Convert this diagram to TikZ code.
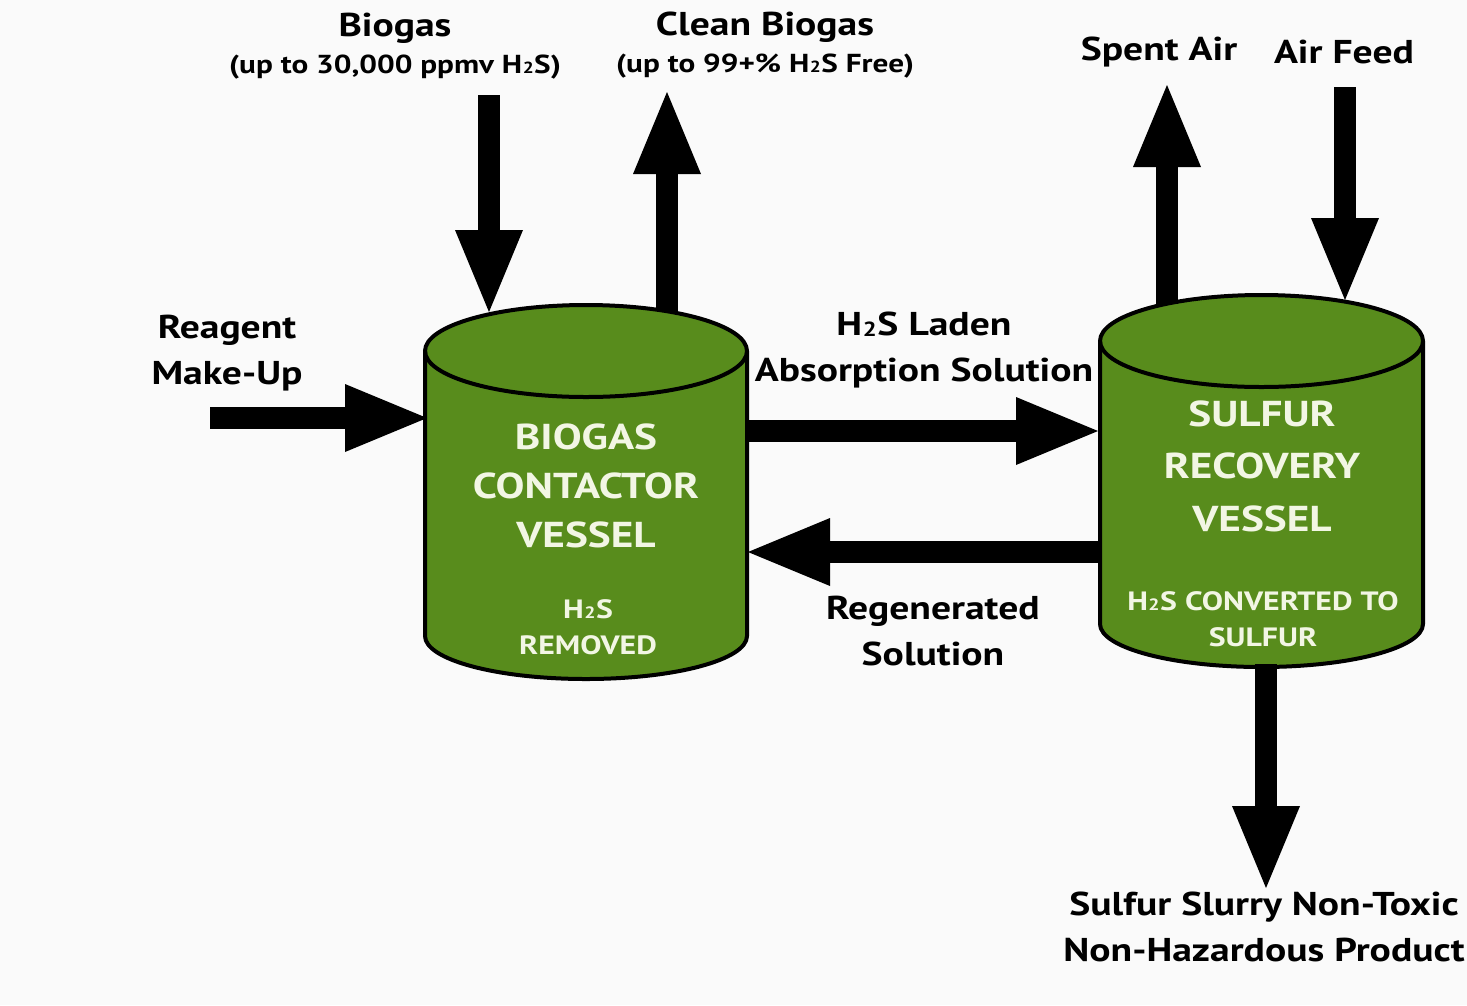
\documentclass[tikz,border=0pt]{standalone}
\usepackage{fontspec}
\setmainfont{PT Sans}[FakeStretch=1.2]
\usetikzlibrary{arrows.meta}
\definecolor{bg}{RGB}{250,250,250}
\definecolor{vgreen}{RGB}{88,140,28}
\definecolor{vtext}{RGB}{242,246,228}
\newcommand\HHS{H\kern0.02em\raisebox{-0.02em}{\scalebox{0.62}{2}}\kern0.02em S}
\begin{document}
\begin{tikzpicture}[x=1pt,y=-1pt,
  flow/.style={line width=22pt, -{Triangle[length=82pt,width=68pt,line width=0pt]}},
  lbl/.style={font=\bfseries\fontsize{33}{46}\selectfont, align=center, inner sep=0pt},
  sublbl/.style={font=\bfseries\fontsize{26}{30}\selectfont, align=center, inner sep=0pt},
  vtitle/.style={font=\bfseries\fontsize{36}{49}\selectfont, text=vtext, align=center, inner sep=0pt},
  vtitleb/.style={font=\bfseries\fontsize{36}{52.5}\selectfont, text=vtext, align=center, inner sep=0pt},
  vsub/.style={font=\bfseries\fontsize{26.5}{36}\selectfont, text=vtext, align=center, inner sep=0pt},
  vessel/.style={fill=vgreen, draw=black, line width=4pt, line join=round}
]
\useasboundingbox (0,0) rectangle (1467,1005);
\clip (0,0) rectangle (1467,1005);
\fill[bg] (0,0) rectangle (1467,1005);

% Biogas contactor vessel
\path[vessel] (425,351) -- (425,636) .. controls (425,659.7) and (497.1,679) .. (586,679)
  .. controls (674.9,679) and (747,659.7) .. (747,636) -- (747,351)
  .. controls (747,325.6) and (674.9,305) .. (586,305)
  .. controls (497.1,305) and (425,325.6) .. (425,351) -- cycle;
\draw[line width=4pt] (425,351) .. controls (425,376.4) and (497.1,397) .. (586,397)
  .. controls (674.9,397) and (747,376.4) .. (747,351);

% Sulfur recovery vessel
\path[vessel] (1100,341) -- (1100,624) .. controls (1100,647.7) and (1172.3,667) .. (1261.5,667)
  .. controls (1350.7,667) and (1423,647.7) .. (1423,624) -- (1423,341)
  .. controls (1423,315.6) and (1350.7,295) .. (1261.5,295)
  .. controls (1172.3,295) and (1100,315.6) .. (1100,341) -- cycle;
\draw[line width=4pt] (1100,341) .. controls (1100,366.4) and (1172.3,387) .. (1261.5,387)
  .. controls (1350.7,387) and (1423,366.4) .. (1423,341);

% vessel texts
\node[vtitle] (bcvTitle) at (586,486) {BIOGAS\\CONTACTOR\\VESSEL};
\node[vsub] (bcvSub) at (588,627) {\HHS\\REMOVED};
\node[vtitleb] (srvTitle) at (1262,466) {SULFUR\\RECOVERY\\VESSEL};
\node[vsub] (srvSub) at (1263,619) {\HHS\ CONVERTED TO\\SULFUR};

% connection points
\coordinate (biogasIn) at (489,95);
\coordinate (bcvTopIn) at (489,312);
\coordinate (bcvTopOut) at (667,311);
\coordinate (cleanOut) at (667,92);
\coordinate (reagentIn) at (210,418);
\coordinate (bcvLeft) at (427,418);
\coordinate (bcvRightOut) at (746,431);
\coordinate (srvLeftIn) at (1098,431);
\coordinate (srvLeftOut) at (1101,552);
\coordinate (bcvRightIn) at (748,552);
\coordinate (srvTopOut) at (1167,304);
\coordinate (spentOut) at (1167,85);
\coordinate (airIn) at (1345,87);
\coordinate (srvTopIn) at (1345,300);
\coordinate (srvBottom) at (1266,664);
\coordinate (slurryOut) at (1266,888);

% flows
\draw[flow] (biogasIn) -- (bcvTopIn);
\draw[flow] (bcvTopOut) -- (cleanOut);
\draw[flow] (reagentIn) -- (bcvLeft);
\draw[flow] (bcvRightOut) -- (srvLeftIn);
\draw[flow] (srvLeftOut) -- (bcvRightIn);
\draw[flow] (srvTopOut) -- (spentOut);
\draw[flow] (airIn) -- (srvTopIn);
\draw[flow] (srvBottom) -- (slurryOut);

% labels
\node[lbl] (tBiogas) at (395,28) {Biogas};
\node[sublbl] (tBiogasSub) at (395,67) {(up to 30,000 ppmv \HHS)};
\node[lbl] (tClean) at (765,27) {Clean Biogas};
\node[sublbl] (tCleanSub) at (765,66) {(up to 99+\% \HHS\ Free)};
\node[lbl] (tSpent) at (1159,52) {Spent Air};
\node[lbl] (tAirFeed) at (1344,52) {Air Feed};
\node[lbl] (tReagent) at (227,353) {Reagent\\Make-Up};
\node[lbl] (tLaden) at (924,350) {\HHS\ Laden\\Absorption Solution};
\node[lbl] (tRegen) at (933,631) {Regenerated\\Solution};
\node[lbl] (tSlurry) at (1264,927) {Sulfur Slurry Non-Toxic\\Non-Hazardous Product};
\end{tikzpicture}
\end{document}
